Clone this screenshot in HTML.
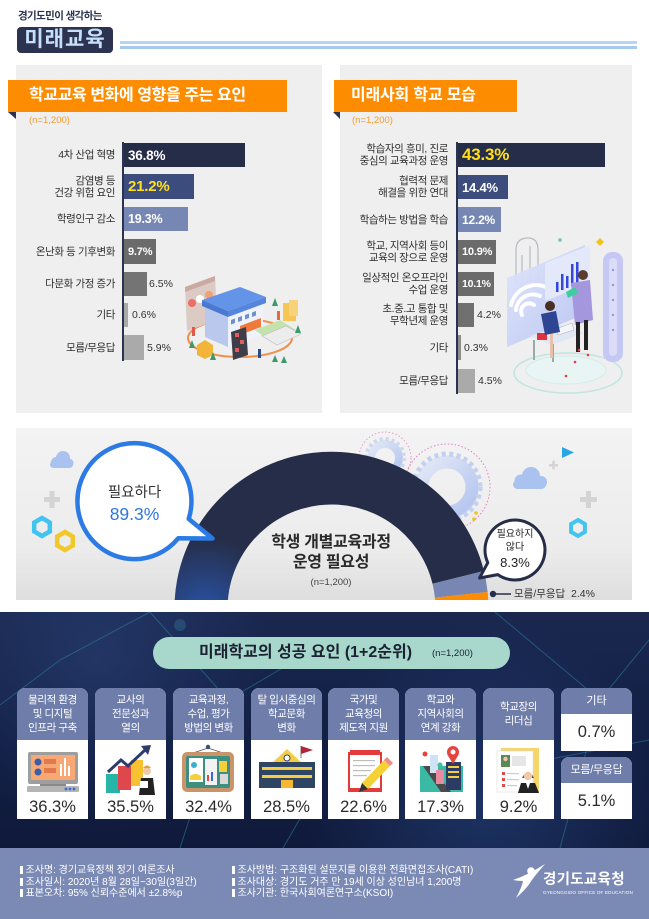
<!DOCTYPE html>
<html lang="ko"><head><meta charset="utf-8"><title>미래교육</title>
<style>
*{margin:0;padding:0;box-sizing:border-box}
html,body{width:649px;height:919px;overflow:hidden;background:#fff}
body{position:relative;font-family:"Liberation Sans","Noto Sans CJK KR",sans-serif;color:#333}
.a{position:absolute}
.row{position:absolute;display:flex;align-items:center;justify-content:flex-end;text-align:right;font-size:10.5px;line-height:12px;color:#2f2f2f;letter-spacing:-0.4px;white-space:nowrap}
.bar{position:absolute;display:flex;align-items:center;padding-left:4px;font-weight:bold;color:#fff;white-space:nowrap;letter-spacing:-0.2px}
.out{position:absolute;display:flex;align-items:center;font-size:10.5px;color:#333;white-space:nowrap}
.card{position:absolute;top:688px;width:71px;height:131px;background:#fff;border-radius:8px 8px 0 0;overflow:hidden}
.card .h{height:52px;background:#6f7daa;color:#fff;font-size:10.5px;line-height:14px;text-align:center;display:flex;align-items:center;justify-content:center;letter-spacing:-0.4px;white-space:nowrap}
.card .v{position:absolute;left:0;right:0;top:109px;text-align:center;font-size:16.5px;line-height:20px;color:#2a2a2a}
.ft{position:absolute;font-size:10px;line-height:11.5px;color:#fff;white-space:nowrap}
.ft i{display:inline-block;width:2.5px;height:8px;background:#fff;margin-right:3px;vertical-align:-1px}
</style></head><body>

<!-- HEADER -->
<div class="a" style="left:18px;top:9px;font-size:10.5px;font-weight:bold;color:#2b3350;letter-spacing:-0.6px;line-height:14px;white-space:nowrap">경기도민이 생각하는</div>
<div class="a" style="left:17px;top:27px;width:96px;height:26px;background:#2b3350;border-radius:4px;color:#c6e0fb;font-size:21px;font-weight:bold;line-height:26px;text-align:center;letter-spacing:1px;white-space:nowrap">미래교육</div>
<div class="a" style="left:120px;top:41px;width:517px;height:2.5px;background:#b5d5f5"></div>
<div class="a" style="left:120px;top:46px;width:517px;height:2.5px;background:#a5c9ef"></div>

<!-- PANELS -->
<div class="a" style="left:16px;top:65px;width:306px;height:348px;background:#efefef"></div>
<div class="a" style="left:340px;top:65px;width:292px;height:348px;background:#efefef"></div>
<div class="a" style="left:8px;top:80px;width:279px;height:32px;background:#fd8c00;color:#fff;font-size:16px;font-weight:bold;line-height:32px;padding-left:21px;letter-spacing:-0.4px;white-space:nowrap">학교교육 변화에 영향을 주는 요인</div>
<div class="a" style="left:334px;top:80px;width:183px;height:32px;background:#fd8c00;color:#fff;font-size:16px;font-weight:bold;line-height:32px;padding-left:17px;letter-spacing:-0.2px;white-space:nowrap">미래사회 학교 모습</div>
<div class="a" style="left:29px;top:115px;font-size:9.5px;line-height:12px;color:#f39a2d">(n=1,200)</div>
<div class="a" style="left:352px;top:115px;font-size:9.5px;line-height:12px;color:#f39a2d">(n=1,200)</div>

<!-- MIDDLE PANEL BG -->
<div class="a" style="left:16px;top:428px;width:616px;height:172px;background:linear-gradient(#f3f3f3,#ececec 70%,#dedede)"></div>

<!-- DARK SECTION -->
<div class="a" style="left:0;top:612px;width:649px;height:236px;background:radial-gradient(circle at 75% 80%,rgba(40,70,130,.55) 0,rgba(40,70,130,0) 35%),radial-gradient(circle at 15% 20%,rgba(45,70,125,.5) 0,rgba(45,70,125,0) 30%),linear-gradient(#1a2850,#111d42 60%,#0f1a3b)"></div>
<svg class="a" style="left:0;top:612px" width="649" height="236" viewBox="0 612 649 236">
 <g stroke="#2f8aa6" stroke-opacity=".5" stroke-width="1" fill="none">
  <path d="M150,612 L228,700 L180,848"/>
  <path d="M228,700 L330,640"/>
  <path d="M495,612 L600,700 L649,640"/>
  <path d="M520,765 L649,740"/>
  <path d="M283,848 L305,810"/>
  <path d="M0,705 L60,660 L150,612"/>
  <path d="M600,700 L560,848"/>
 </g>
 <circle cx="180" cy="625" r="6" fill="#3a7fa0" opacity=".35"/>
 <circle cx="600" cy="700" r="5" fill="#3a7fa0" opacity=".35"/>
</svg>

<!-- FOOTER BG -->
<div class="a" style="left:0;top:848px;width:649px;height:71px;background:#7b8ab5"></div>

<!-- PILL -->
<div class="a" style="left:153px;top:637px;width:357px;height:32px;border-radius:16px;background:#a7d8cb"></div>

<!-- CARDS -->
<div class="card" style="left:17px"><div class="h"><p>물리적 환경<br>및 디지털<br>인프라 구축</p></div><div class="v">36.3%</div></div>
<div class="card" style="left:95px"><div class="h"><p>교사의<br>전문성과<br>열의</p></div><div class="v">35.5%</div></div>
<div class="card" style="left:173px"><div class="h"><p>교육과정,<br>수업, 평가<br>방법의 변화</p></div><div class="v">32.4%</div></div>
<div class="card" style="left:251px"><div class="h"><p>탈 입시중심의<br>학교문화<br>변화</p></div><div class="v">28.5%</div></div>
<div class="card" style="left:328px"><div class="h"><p>국가및<br>교육청의<br>제도적 지원</p></div><div class="v">22.6%</div></div>
<div class="card" style="left:405px"><div class="h"><p>학교와<br>지역사회의<br>연계 강화</p></div><div class="v">17.3%</div></div>
<div class="card" style="left:483px"><div class="h"><p>학교장의<br>리더십</p></div><div class="v">9.2%</div></div>
<div class="a" style="left:561px;top:688px;width:71px;height:63px;background:#fff;border-radius:8px 8px 0 0;overflow:hidden">
 <div style="height:26px;background:#6f7daa;color:#fff;font-size:11px;line-height:26px;text-align:center">기타</div>
 <div style="text-align:center;font-size:16.5px;line-height:37px;color:#2a2a2a">0.7%</div>
</div>
<div class="a" style="left:561px;top:757px;width:71px;height:62px;background:#fff;border-radius:8px 8px 0 0;overflow:hidden">
 <div style="height:26px;background:#6f7daa;color:#fff;font-size:11px;line-height:26px;text-align:center;letter-spacing:-0.3px">모름/무응답</div>
 <div style="text-align:center;font-size:16.5px;line-height:36px;color:#2a2a2a">5.1%</div>
</div>

<!-- LEFT CHART -->
<div class="a" style="left:122px;top:142px;width:2px;height:219px;background:#2b3350"></div>
<div class="row" style="left:0;width:115px;top:143px;height:24px"><p>4차 산업 혁명</p></div>
<div class="row" style="left:0;width:115px;top:174px;height:25px"><p>감염병 등<br>건강 위험 요인</p></div>
<div class="row" style="left:0;width:115px;top:207px;height:24px"><p>학령인구 감소</p></div>
<div class="row" style="left:0;width:115px;top:239px;height:25px"><p>온난화 등 기후변화</p></div>
<div class="row" style="left:0;width:115px;top:272px;height:24px"><p>다문화 가정 증가</p></div>
<div class="row" style="left:0;width:115px;top:303px;height:24px"><p>기타</p></div>
<div class="row" style="left:0;width:115px;top:335px;height:25px"><p>모름/무응답</p></div>

<div class="bar" style="left:124px;top:143px;width:121px;height:24px;background:#262d48;font-size:13.5px">36.8%</div>
<div class="bar" style="left:124px;top:174px;width:70px;height:25px;background:#3c4d7d;font-size:15px;color:#ffe01b">21.2%</div>
<div class="bar" style="left:124px;top:207px;width:64px;height:24px;background:#7787b4;font-size:12.5px">19.3%</div>
<div class="bar" style="left:124px;top:239px;width:32px;height:25px;background:#6b6b6b;font-size:11px">9.7%</div>
<div class="bar" style="left:124px;top:272px;width:23px;height:24px;background:#747474"></div>
<div class="out" style="left:149px;top:272px;height:24px">6.5%</div>
<div class="bar" style="left:124px;top:303px;width:4px;height:24px;background:#a9a9a9;padding:0"></div>
<div class="out" style="left:132px;top:303px;height:24px">0.6%</div>
<div class="bar" style="left:124px;top:335px;width:20px;height:25px;background:#aaaaaa"></div>
<div class="out" style="left:147px;top:335px;height:25px">5.9%</div>

<!-- RIGHT CHART -->
<div class="a" style="left:456px;top:142px;width:2px;height:252px;background:#2b3350"></div>
<div class="row" style="left:330px;width:118px;top:143px;height:24px"><p>학습자의 흥미, 진로<br>중심의 교육과정 운영</p></div>
<div class="row" style="left:330px;width:118px;top:175px;height:24px"><p>협력적 문제<br>해결을 위한 연대</p></div>
<div class="row" style="left:330px;width:118px;top:207px;height:25px"><p>학습하는 방법을 학습</p></div>
<div class="row" style="left:330px;width:118px;top:240px;height:24px"><p>학교, 지역사회 등이<br>교육의 장으로 운영</p></div>
<div class="row" style="left:330px;width:118px;top:272px;height:24px"><p>일상적인 온오프라인<br>수업 운영</p></div>
<div class="row" style="left:330px;width:118px;top:303px;height:24px"><p>초.중.고 통합 및<br>무학년제 운영</p></div>
<div class="row" style="left:330px;width:118px;top:335px;height:25px"><p>기타</p></div>
<div class="row" style="left:330px;width:118px;top:369px;height:24px"><p>모름/무응답</p></div>

<div class="bar" style="left:458px;top:143px;width:147px;height:24px;background:#262d48;font-size:17px;color:#ffe01b">43.3%</div>
<div class="bar" style="left:458px;top:175px;width:50px;height:24px;background:#3c4d7d;font-size:13px">14.4%</div>
<div class="bar" style="left:458px;top:207px;width:43px;height:25px;background:#7787b4;font-size:12px">12.2%</div>
<div class="bar" style="left:458px;top:240px;width:38px;height:24px;background:#6b6b6b;font-size:11px">10.9%</div>
<div class="bar" style="left:458px;top:272px;width:36px;height:24px;background:#6b6b6b;font-size:10.5px">10.1%</div>
<div class="bar" style="left:458px;top:303px;width:16px;height:24px;background:#707070"></div>
<div class="out" style="left:477px;top:303px;height:24px">4.2%</div>
<div class="bar" style="left:458px;top:335px;width:3px;height:25px;background:#8d8d8d;padding:0"></div>
<div class="out" style="left:464px;top:335px;height:25px">0.3%</div>
<div class="bar" style="left:458px;top:369px;width:17px;height:24px;background:#aaaaaa"></div>
<div class="out" style="left:478px;top:369px;height:24px">4.5%</div>

<!-- GRAPHICS OVERLAY -->
<svg class="a" style="left:0;top:0" width="649" height="919" viewBox="0 0 649 919">
<defs>
 <clipPath id="mc"><rect x="16" y="428" width="616" height="172"/></clipPath>
 <radialGradient id="bg1" cx="205" cy="612" r="75" gradientUnits="userSpaceOnUse">
  <stop offset="0" stop-color="#2a5ab8" stop-opacity=".85"/>
  <stop offset="1" stop-color="#2a5ab8" stop-opacity="0"/>
 </radialGradient>
 <linearGradient id="gr" x1="0" y1="0" x2="1" y2="1"><stop offset="0" stop-color="#e2e8f6"/><stop offset="1" stop-color="#b2c4ef"/></linearGradient>
 <linearGradient id="pn" x1="0" y1="0" x2="1" y2="1"><stop offset="0" stop-color="#dfe6fb"/><stop offset="1" stop-color="#b9c3f3"/></linearGradient>
</defs>

<!-- fold triangles -->
<polygon points="8,112 16,112 16,119" fill="#2b3350"/>
<polygon points="333,112 340,112 340,119" fill="#2b3350"/>

<!-- LEFT ILLUSTRATION -->
<g>
 <ellipse cx="240" cy="338" rx="52" ry="19" fill="none" stroke="#f0904a" stroke-width="2"/>
 <polygon points="185,287 215,276 217,320 187,331" fill="#dccbc4"/>
 <polygon points="185,287 215,276 215,281 185,292" fill="#c9a9a0"/>
 <circle cx="192" cy="303" r="4" fill="#ec6e65"/>
 <circle cx="200" cy="299" r="4" fill="#fff"/>
 <circle cx="209" cy="295" r="4" fill="#f2a070"/>
 <polygon points="205,306 228,316 228,347 205,337" fill="#b9c8ec"/>
 <polygon points="228,316 263,303 263,334 228,347" fill="#eef2fb"/>
 <polygon points="202,300 240,287 266,297 228,311" fill="#6394e8"/>
 <polygon points="202,300 228,311 228,317 202,306" fill="#4a79d2"/>
 <polygon points="228,311 266,297 266,303 228,317" fill="#5585dc"/>
 <g fill="#6f8fd0">
  <polygon points="231,320 235,318.5 235,323 231,324.5"/>
  <polygon points="238,317.5 242,316 242,320.5 238,322"/>
  <polygon points="245,315 249,313.5 249,318 245,319.5"/>
  <polygon points="252,312.5 256,311 256,315.5 252,317"/>
 </g>
 <polygon points="240,326 261,318 261,327 240,335" fill="#f07a3c"/>
 <polygon points="255,330 280,320 296,330 270,341" fill="#c4e2ae"/>
 <polygon points="262,336 286,326 301,334 277,345" fill="#ececec" stroke="#bdbdbd" stroke-width=".6"/>
 <rect x="283" y="303" width="13" height="18" fill="#f5c654"/>
 <rect x="289" y="300" width="9" height="16" fill="#f7d27a"/>
 <polygon points="197,345 205,340 213,345 213,355 205,359 197,355" fill="#f2b53a"/>
 <polygon points="231,332 246,327 248,355 233,360" fill="#3e3e4a"/>
 <rect x="235" y="333" width="4" height="4" fill="#e85a5a"/>
 <rect x="240" y="340" width="4" height="4" fill="#e85a5a"/>
 <rect x="235" y="348" width="4" height="4" fill="#e85a5a"/>
 <g fill="#3a9a6a">
  <polygon points="275,298 272,306 278,306"/>
  <polygon points="298,325 295,333 301,333"/>
  <polygon points="192,340 189,348 195,348"/>
  <polygon points="213,352 210,360 216,360"/>
  <polygon points="275,355 272,362 278,362"/>
  <polygon points="284,356 281,363 287,363"/>
 </g>
 <rect x="192" y="327" width="3" height="9" fill="#e05a4a"/>
 <rect x="258" y="349" width="3" height="9" fill="#2d4a8a"/>
 <rect x="277" y="311" width="3" height="9" fill="#e86a3a"/>
</g>

<!-- RIGHT ILLUSTRATION -->
<g>
 <ellipse cx="568" cy="373" rx="54" ry="20" fill="none" stroke="#bfe6e0" stroke-width="1.5"/>
 <ellipse cx="566" cy="370" rx="40" ry="14" fill="#e9f5f4" stroke="#cfeeea"/>
 <g stroke="#b9b9c4" stroke-width="1.2" fill="none">
  <path d="M516,285 L516,250 Q516,238 528,238 Q538,238 538,250 L538,280"/>
  <path d="M522,290 L522,255"/>
  <path d="M530,288 L530,246"/>
 </g>
 <polygon points="507,278 585,245 585,314 507,347" fill="url(#pn)" opacity=".95"/>
 <g fill="none" stroke="#fff" stroke-width="4" stroke-linecap="round">
  <path d="M522,315 A8,8 0 0 1 534,305"/>
  <path d="M516,310 A17,17 0 0 1 540,296"/>
  <path d="M511,305 A26,26 0 0 1 546,287"/>
 </g>
 <polygon points="545,263 590,245 590,283 545,301" fill="#e3e9fb"/>
 <g fill="#3346e0">
  <rect x="556" y="282" width="2.5" height="10"/>
  <rect x="561" y="274" width="2.5" height="16"/>
  <rect x="566" y="276" width="2.5" height="12"/>
  <rect x="571" y="264" width="2.5" height="22"/>
  <rect x="576" y="262" width="2.5" height="22"/>
 </g>
 <rect x="603" y="252" width="20" height="110" rx="9" fill="#c5c8f3"/>
 <rect x="609" y="258" width="8" height="98" rx="4" fill="#dadcf8"/>
 <g fill="#8f96e4"><circle cx="613" cy="270" r="1.2"/><circle cx="613" cy="285" r="1.2"/><circle cx="613" cy="300" r="1.2"/><circle cx="613" cy="315" r="1.2"/><circle cx="613" cy="330" r="1.2"/></g>
 <polygon points="530,336 562,325 584,333 552,345" fill="#dfe6f4"/>
 <rect x="533" y="340" width="2" height="20" fill="#9aa"/>
 <rect x="552" y="344" width="2" height="18" fill="#9aa"/>
 <polygon points="556,329 572,323 574,330 558,335" fill="#f4f6fb" stroke="#aab" stroke-width=".5"/>
 <rect x="537" y="333" width="10" height="7" fill="#e2323c"/>
 <circle cx="550" cy="306" r="5" fill="#4a2e22"/>
 <polygon points="541,314 556,311 560,332 545,335" fill="#2d4592"/>
 <rect x="550" y="334" width="3" height="24" fill="#e8c2a8"/>
 <circle cx="583" cy="275" r="5" fill="#5a3c2e"/>
 <polygon points="571,283 590,280 593,320 575,325" fill="#a497de"/>
 <rect x="576" y="322" width="4" height="30" fill="#222"/>
 <rect x="584" y="320" width="4" height="30" fill="#222"/>
 <polygon points="566,292 575,287 578,293 568,298" fill="#3ccf9c"/>
 <g fill="#e03a4a"><circle cx="579" cy="350" r="1.3"/><circle cx="588" cy="355" r="1.3"/><circle cx="575" cy="362" r="1.3"/><circle cx="566" cy="376" r="1.3"/></g>
 <circle cx="560" cy="240" r="2" fill="#7ad0c8"/>
 <polygon points="600,238 604,242 600,246 596,242" fill="#f0c419"/>
</g>

<!-- MIDDLE DECORATIONS + ARC -->
<g clip-path="url(#mc)">
 <!-- clouds -->
 <g fill="#a9c2ef">
  <circle cx="56" cy="462" r="5"/><circle cx="63" cy="458" r="7"/><circle cx="69" cy="463" r="4.5"/><rect x="50" y="461" width="23" height="7" rx="3.5"/>
  <circle cx="521" cy="481" r="6.5"/><circle cx="531" cy="476" r="9"/><circle cx="541" cy="482" r="6"/><rect x="513" y="480" width="33" height="9" rx="4.5"/>
 </g>
 <!-- plus signs -->
 <g fill="#d4d4d4">
  <rect x="44" y="497" width="16" height="5"/><rect x="49.5" y="491" width="5" height="17"/>
  <rect x="580" y="497" width="17" height="5"/><rect x="586" y="491" width="5" height="17"/>
  <rect x="549" y="464" width="9" height="2.5"/><rect x="552.3" y="460.5" width="2.5" height="9"/>
 </g>
 <!-- hexagons -->
 <polygon points="42,518 49.8,522.5 49.8,531.5 42,536 34.2,531.5 34.2,522.5" fill="none" stroke="#41c4f0" stroke-width="4.5"/>
 <polygon points="65,532 72.8,536.5 72.8,545.5 65,550 57.2,545.5 57.2,536.5" fill="none" stroke="#f2c72a" stroke-width="4.5"/>
 <polygon points="578,520 584.9,524 584.9,532 578,536 571.1,532 571.1,524" fill="none" stroke="#41c4f0" stroke-width="4"/>
 <polygon points="562,447 574,452.5 562,458" fill="#2aa6e2"/>
 <!-- gears -->
 <circle cx="385" cy="458" r="26" fill="none" stroke="#e59ad0" stroke-width="1" stroke-dasharray="1.5 2"/>
 <circle cx="385" cy="458" r="14" fill="none" stroke="url(#gr)" stroke-width="8"/>
 <circle cx="385" cy="458" r="19" fill="none" stroke="#cdd7ee" stroke-width="4" stroke-dasharray="3 3"/>
 <circle cx="447" cy="487" r="43" fill="none" stroke="#e77fc0" stroke-width="1" stroke-dasharray="1.5 2"/>
 <circle cx="447" cy="487" r="25" fill="none" stroke="url(#gr)" stroke-width="13"/>
 <circle cx="447" cy="487" r="33" fill="none" stroke="#c3d0ef" stroke-width="5" stroke-dasharray="4 3.5"/>
 <circle cx="476" cy="513" r="1.8" fill="#f0c419"/>
 <circle cx="474" cy="519" r="1.8" fill="#f0c419"/>
 <!-- arc -->
 <path d="M174.5,608.7 A157,157 0 0 1 483.9,571 L432.5,583.7 A104,104 0 0 0 227.5,608.7 Z" fill="#262d48"/>
 <path d="M174.5,608.7 A157,157 0 0 1 483.9,571 L432.5,583.7 A104,104 0 0 0 227.5,608.7 Z" fill="url(#bg1)"/>
 <path d="M483.9,571 A157,157 0 0 1 487.6,592 L434.9,597.65 A104,104 0 0 0 432.5,583.7 Z" fill="#7786b2"/>
 <path d="M487.6,592 A157,157 0 0 1 488.5,608.7 L435.5,608.7 A104,104 0 0 0 434.9,597.65 Z" fill="#fd8c00"/>
 <!-- bubbles -->
 <path d="M188.7,518.9 L212.5,538.5 L178.2,538.3 A57,58 0 1 1 188.7,518.9 Z" fill="#fff" stroke="#2c7be5" stroke-width="4.5" stroke-linejoin="round"/>
 <path d="M487.8,562.7 L479.5,578 L497.8,574.6 A30,30 0 1 0 487.8,562.7 Z" fill="#fff" stroke="#262d48" stroke-width="3" stroke-linejoin="round"/>
 <line x1="493" y1="594" x2="511" y2="594" stroke="#262d48" stroke-width="1.5"/>
 <circle cx="493" cy="594" r="3.2" fill="#262d48"/>
</g>

<!-- CARD ICONS -->
<!-- 1 monitor -->
<g>
 <rect x="28" y="752" width="50" height="32" rx="2" fill="#9e9e9e"/>
 <rect x="31" y="755" width="44" height="25" fill="#f7a874"/>
 <circle cx="38" cy="762" r="3.5" fill="#3b5ea8"/>
 <circle cx="38" cy="772" r="3.5" fill="#3b5ea8"/>
 <rect x="44" y="759" width="12" height="5" fill="#e07a4a"/>
 <rect x="44" y="768" width="12" height="5" fill="#e07a4a"/>
 <rect x="60" y="764" width="2" height="12" fill="#fff"/>
 <rect x="64" y="758" width="2" height="18" fill="#fff"/>
 <rect x="68" y="766" width="2" height="10" fill="#fff"/>
 <rect x="40" y="784" width="26" height="3" fill="#8a8a8a"/>
 <rect x="27" y="786" width="52" height="6" rx="1" fill="#b5b5b5"/>
 <circle cx="66" cy="789" r="1.4" fill="#3a6ad0"/><circle cx="70" cy="789" r="1.4" fill="#3a6ad0"/><circle cx="74" cy="789" r="1.4" fill="#3a6ad0"/>
</g>
<!-- 2 bars -->
<g>
 <rect x="106" y="774" width="14" height="19" fill="#27b5a8"/>
 <rect x="118" y="766" width="13" height="24" fill="#e0474c"/>
 <rect x="131" y="760" width="12" height="26" fill="#f6c232"/>
 <path d="M108,772 L121,760 L128,766 L145,750" stroke="#2d3c6c" stroke-width="3" fill="none"/>
 <polygon points="141,746 151,745 148,755" fill="#2d3c6c"/>
 <circle cx="147" cy="771" r="4" fill="#f2c9a6"/>
 <path d="M143,768 Q147,763 151,768 Z" fill="#e0a13a"/>
 <path d="M139,795 L141,778 L153,778 L155,795 Z" fill="#222"/>
 <rect x="140" y="781" width="8" height="7" fill="#fff"/>
</g>
<!-- 3 board -->
<g>
 <line x1="208" y1="748" x2="193" y2="753" stroke="#555" stroke-width=".8"/>
 <line x1="208" y1="748" x2="223" y2="753" stroke="#555" stroke-width=".8"/>
 <circle cx="208" cy="747" r="2.2" fill="#35507a"/>
 <rect x="182" y="752" width="52" height="40" rx="5" fill="#c9946a"/>
 <rect x="186" y="756" width="44" height="32" rx="2" fill="#3f8f80"/>
 <rect x="189" y="758" width="14" height="24" fill="#fff"/>
 <circle cx="194" cy="765" r="3" fill="#3ab0d0"/>
 <path d="M190,776 Q195,772 201,776 L201,780 L190,780 Z" fill="#f4d03f"/>
 <rect x="205" y="759" width="12" height="26" fill="#f3f3f3"/>
 <rect x="207" y="775" width="2" height="6" fill="#e04a4a"/>
 <rect x="211" y="772" width="2" height="9" fill="#3a6ad0"/>
 <rect x="219" y="761" width="8" height="11" fill="#f4d03f"/>
 <rect x="220" y="774" width="8" height="10" fill="#d9d9d9"/>
</g>
<!-- 4 school -->
<g>
 <polygon points="287,749 272,763 302,763" fill="#f5cd45"/>
 <circle cx="287" cy="758" r="3" fill="#fff" stroke="#2f4461"/>
 <rect x="259" y="762" width="56" height="26" fill="#2f4564"/>
 <rect x="262" y="767" width="50" height="3" fill="#f5cd45"/>
 <rect x="262" y="775" width="50" height="3" fill="#f5cd45"/>
 <rect x="281" y="780" width="12" height="8" fill="#f5b82e"/>
 <line x1="301" y1="746" x2="301" y2="758" stroke="#777"/>
 <polygon points="301,746 313,750 301,754" fill="#b3233a"/>
</g>
<!-- 5 notepad -->
<g>
 <rect x="348" y="752" width="34" height="40" fill="#e43a3c"/>
 <rect x="350" y="755" width="30" height="33" fill="#fff"/>
 <rect x="350" y="750" width="30" height="4" fill="#e43a3c"/>
 <g fill="#bdbdbd"><rect x="353" y="760" width="22" height="1.2"/><rect x="353" y="765" width="22" height="1.2"/><rect x="353" y="770" width="18" height="1.2"/><rect x="353" y="775" width="14" height="1.2"/></g>
 <polygon points="362,783 384,760 390,766 368,789" fill="#f5d134"/>
 <polygon points="384,760 387,757 393,763 390,766" fill="#f08a8a"/>
 <polygon points="362,783 368,789 359,792" fill="#333"/>
</g>
<!-- 6 map -->
<g>
 <rect x="420" y="766" width="43" height="26" fill="#3ab9a4"/>
 <polygon points="423,766 431,766 451,792 441,792" fill="#4a4a4a"/>
 <rect x="446" y="762" width="15" height="28" fill="#2b3b63"/>
 <g fill="#f5cd45"><rect x="448" y="766" width="11" height="2"/><rect x="448" y="771" width="11" height="2"/><rect x="448" y="776" width="11" height="2"/></g>
 <rect x="430" y="755" width="8" height="18" fill="#cfe3f6"/>
 <rect x="436" y="770" width="8" height="14" fill="#e88aa0"/>
 <circle cx="453" cy="752" r="6" fill="#e8433d"/>
 <polygon points="447,754 459,754 453,764" fill="#e8433d"/>
 <circle cx="453" cy="752" r="2.5" fill="#fff"/>
 <circle cx="425" cy="754" r="2.5" fill="#e8433d"/>
 <circle cx="440" cy="765" r="2.5" fill="#3ac0a0"/>
</g>
<!-- 7 resume -->
<g>
 <rect x="501" y="748" width="38" height="44" fill="#f6d56c"/>
 <rect x="497" y="751" width="36" height="41" fill="#fff" stroke="#ddd" stroke-width=".6"/>
 <rect x="501" y="755" width="9" height="12" fill="#5b8a58"/>
 <circle cx="505.5" cy="759" r="2.2" fill="#f0c9a8"/>
 <rect x="512" y="756" width="14" height="10" fill="#e6e6e6"/>
 <g fill="#e04a4a"><rect x="502" y="772" width="3" height="3"/><rect x="502" y="778" width="3" height="3"/><rect x="502" y="784" width="3" height="3"/></g>
 <g fill="#ccc"><rect x="507" y="773" width="12" height="1.2"/><rect x="507" y="779" width="12" height="1.2"/><rect x="507" y="785" width="10" height="1.2"/></g>
 <path d="M522,778 Q528,766 534,778 Z" fill="#7a4a2a"/>
 <circle cx="528" cy="776" r="4.2" fill="#f0c9a8"/>
 <polygon points="518,793 521,783 535,783 539,793" fill="#222"/>
 <polygon points="526,783 530,783 528,789" fill="#fff"/>
</g>

<!-- LOGO -->
<g fill="#fff">
 <circle cx="531" cy="871" r="3.8"/>
 <path d="M513,880 Q528,875 545,864 Q532,879 530,883 Q526,889 516,898 Q522,887 523,881 Q518,881 513,880 Z"/>
</g>
</svg>

<!-- MIDDLE TEXT -->
<div class="a" style="left:84px;top:483px;width:101px;text-align:center;font-size:14.5px;line-height:20px;color:#333">필요하다</div>
<div class="a" style="left:84px;top:503px;width:101px;text-align:center;font-size:17.5px;line-height:22px;color:#2c76df">89.3%</div>
<div class="a" style="left:231px;top:533px;width:200px;text-align:center;font-size:16px;font-weight:bold;line-height:20px;color:#2a2a2a;letter-spacing:-0.3px;white-space:nowrap">학생 개별교육과정<br>운영 필요성</div>
<div class="a" style="left:231px;top:576px;width:200px;text-align:center;font-size:9.5px;line-height:13px;color:#444">(n=1,200)</div>
<div class="a" style="left:485px;top:528px;width:60px;text-align:center;font-size:10px;line-height:13px;color:#222">필요하지<br>않다</div>
<div class="a" style="left:485px;top:555px;width:60px;text-align:center;font-size:13px;line-height:16px;color:#222">8.3%</div>
<div class="a" style="left:514px;top:587px;font-size:10.5px;line-height:14px;color:#333;white-space:nowrap">모름/무응답&nbsp; 2.4%</div>

<!-- PILL TEXT -->
<div class="a" style="left:199px;top:643px;font-size:16px;font-weight:bold;line-height:20px;color:#1c2233;white-space:nowrap">미래학교의 성공 요인 (1+2순위)</div>
<div class="a" style="left:432px;top:647px;font-size:9.5px;line-height:13px;color:#1c2233;white-space:nowrap">(n=1,200)</div>

<!-- FOOTER TEXT -->
<div class="ft" style="left:20px;top:865px"><i></i>조사명: 경기교육정책 정기 여론조사<br><i></i>조사일시: 2020년 8월 28일~30일(3일간)<br><i></i>표본오차: 95% 신뢰수준에서 ±2.8%p</div>
<div class="ft" style="left:232px;top:865px"><i></i>조사방법: 구조화된 설문지를 이용한 전화면접조사(CATI)<br><i></i>조사대상: 경기도 거주 만 19세 이상 성인남녀 1,200명<br><i></i>조사기관: 한국사회여론연구소(KSOI)</div>
<div class="a" style="left:543px;top:871px;font-size:14.5px;font-weight:bold;color:#fff;line-height:18px;letter-spacing:0.3px;white-space:nowrap">경기도교육청</div>
<div class="a" style="left:543px;top:890px;font-size:4.5px;line-height:6px;color:#fff;letter-spacing:0.2px;white-space:nowrap">GYEONGGIDO OFFICE OF EDUCATION</div>

</body></html>
